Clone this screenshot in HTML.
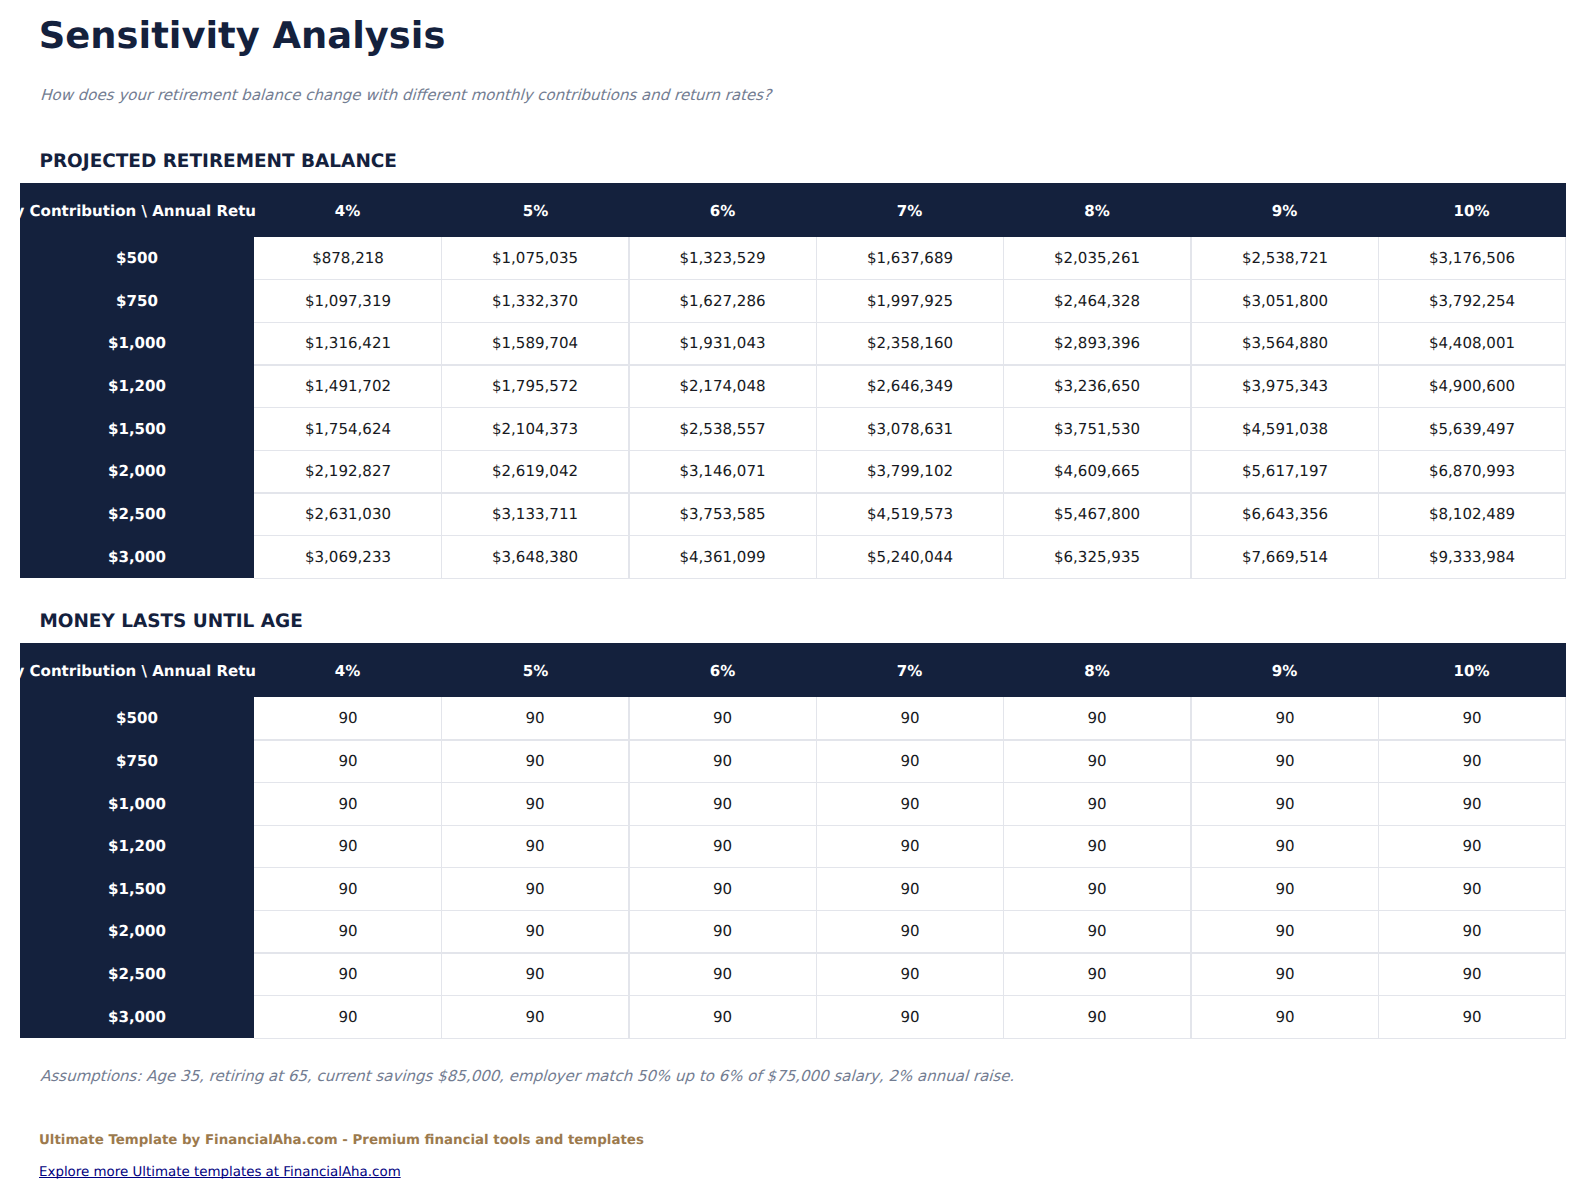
<!DOCTYPE html>
<html lang="en">
<head>
<meta charset="utf-8">
<title>Sensitivity Analysis</title>
<style>
html,body{margin:0;padding:0;background:#fff;}
body{text-rendering:geometricPrecision;font-family:"DejaVu Sans","Liberation Sans",sans-serif;color:#1a1a1a;}
.page{position:relative;width:1586px;height:1199px;overflow:hidden;}
.page>*{position:absolute;margin:0;white-space:nowrap;}
.title{left:38.8px;top:13.7px;font-size:36.86px;font-weight:bold;color:#14213d;line-height:normal;}
.sub{left:40px;top:86px;font-size:15.04px;color:#737d92;line-height:18px;transform:skewX(-16.7deg);transform-origin:0 14px;}
.sec{left:39.4px;font-size:18.45px;font-weight:bold;color:#14213d;line-height:normal;}
.s1{top:151px;}
.s2{top:611px;}
table.grid{left:20px;width:1546px;border-collapse:separate;border-spacing:0;table-layout:fixed;}
.t1{top:183px;}
.t2{top:643px;}
table.grid th,table.grid td{box-sizing:border-box;padding:0;text-align:center;vertical-align:middle;font-size:15.04px;line-height:18px;}
table.grid th{background:#14213d;color:#fff;font-weight:bold;}
table.grid tr.hd th{height:54px;padding-top:2px;}
table.grid td{background:#fff;color:#171a22;border:0 solid #e3e5eb;border-right-width:1px;border-bottom-width:1px;}
table.grid td.v2{border-right-width:2px;}
table.grid tr.b2 td{border-bottom-width:2px;}
table.grid tr.h42 th,table.grid tr.h42 td{height:42px;}
table.grid tr.h43 th,table.grid tr.h43 td{height:43px;}
table.grid tr.h44 th,table.grid tr.h44 td{height:44px;}
table.grid tr.up th,table.grid tr.up td{padding-bottom:2px;}
table.grid tr.hd th.c1,table.grid tr.hd th.c2{padding-right:1px;}
table.grid tr.hd th.c3,table.grid tr.hd th.c4,table.grid tr.hd th.c5,table.grid tr.hd th.c6,table.grid tr.hd th.c7{padding-right:2px;}
table.grid td.c1{padding-left:1px;}
table.grid td.c3{padding-right:1px;}
table.grid tr.b1 th.rh{border-bottom:1px solid #14213d;}
table.grid tr.b2 th.rh{border-bottom:2px solid #14213d;}
table.grid tr.last th.rh{border-bottom:1px solid #fff;}
.corner{position:relative;overflow:visible;}
.clip{position:absolute;left:0;top:0;width:236px;height:54px;overflow:hidden;}
.clip span{position:absolute;left:-64.5px;top:19px;white-space:nowrap;}
.note{left:40px;top:1067px;font-size:15.03px;color:#737d92;line-height:18px;transform:skewX(-16.7deg);transform-origin:0 14px;}
.brand{left:39px;top:1133px;font-size:13.37px;font-weight:bold;color:#9c7a4d;}
.link{left:39px;top:1165px;font-size:13.4px;}
.link a{color:#000080;text-decoration:underline;text-decoration-skip-ink:none;}

</style>
</head>
<body>
<div class="page">
<h1 class="title">Sensitivity Analysis</h1>
<p class="sub">How does your retirement balance change with different monthly contributions and return rates?</p>
<h2 class="sec s1">PROJECTED RETIREMENT BALANCE</h2>
<table class="grid t1">
<colgroup><col style="width:234px"><col style="width:188px"><col style="width:188px"><col style="width:187px"><col style="width:187px"><col style="width:188px"><col style="width:187px"><col style="width:187px"></colgroup>
<thead><tr class="hd"><th class="corner"><div class="clip"><span>Monthly Contribution \ Annual Return</span></div></th><th class="c1">4%</th><th class="c2">5%</th><th class="c3">6%</th><th class="c4">7%</th><th class="c5">8%</th><th class="c6">9%</th><th class="c7">10%</th></tr></thead>
<tbody>
<tr class="h43 b1"><th class="rh">$500</th><td class="v1 c1">$878,218</td><td class="v2 c2">$1,075,035</td><td class="v1 c3">$1,323,529</td><td class="v1 c4">$1,637,689</td><td class="v2 c5">$2,035,261</td><td class="v1 c6">$2,538,721</td><td class="v1 c7">$3,176,506</td></tr>
<tr class="h43 b1"><th class="rh">$750</th><td class="v1 c1">$1,097,319</td><td class="v2 c2">$1,332,370</td><td class="v1 c3">$1,627,286</td><td class="v1 c4">$1,997,925</td><td class="v2 c5">$2,464,328</td><td class="v1 c6">$3,051,800</td><td class="v1 c7">$3,792,254</td></tr>
<tr class="h43 b2 up"><th class="rh">$1,000</th><td class="v1 c1">$1,316,421</td><td class="v2 c2">$1,589,704</td><td class="v1 c3">$1,931,043</td><td class="v1 c4">$2,358,160</td><td class="v2 c5">$2,893,396</td><td class="v1 c6">$3,564,880</td><td class="v1 c7">$4,408,001</td></tr>
<tr class="h42 b1 up"><th class="rh">$1,200</th><td class="v1 c1">$1,491,702</td><td class="v2 c2">$1,795,572</td><td class="v1 c3">$2,174,048</td><td class="v1 c4">$2,646,349</td><td class="v2 c5">$3,236,650</td><td class="v1 c6">$3,975,343</td><td class="v1 c7">$4,900,600</td></tr>
<tr class="h43 b1"><th class="rh">$1,500</th><td class="v1 c1">$1,754,624</td><td class="v2 c2">$2,104,373</td><td class="v1 c3">$2,538,557</td><td class="v1 c4">$3,078,631</td><td class="v2 c5">$3,751,530</td><td class="v1 c6">$4,591,038</td><td class="v1 c7">$5,639,497</td></tr>
<tr class="h43 b2 up"><th class="rh">$2,000</th><td class="v1 c1">$2,192,827</td><td class="v2 c2">$2,619,042</td><td class="v1 c3">$3,146,071</td><td class="v1 c4">$3,799,102</td><td class="v2 c5">$4,609,665</td><td class="v1 c6">$5,617,197</td><td class="v1 c7">$6,870,993</td></tr>
<tr class="h42 b1 up"><th class="rh">$2,500</th><td class="v1 c1">$2,631,030</td><td class="v2 c2">$3,133,711</td><td class="v1 c3">$3,753,585</td><td class="v1 c4">$4,519,573</td><td class="v2 c5">$5,467,800</td><td class="v1 c6">$6,643,356</td><td class="v1 c7">$8,102,489</td></tr>
<tr class="h43 b1 last"><th class="rh">$3,000</th><td class="v1 c1">$3,069,233</td><td class="v2 c2">$3,648,380</td><td class="v1 c3">$4,361,099</td><td class="v1 c4">$5,240,044</td><td class="v2 c5">$6,325,935</td><td class="v1 c6">$7,669,514</td><td class="v1 c7">$9,333,984</td></tr>
</tbody></table>

<h2 class="sec s2">MONEY LASTS UNTIL AGE</h2>
<table class="grid t2">
<colgroup><col style="width:234px"><col style="width:188px"><col style="width:188px"><col style="width:187px"><col style="width:187px"><col style="width:188px"><col style="width:187px"><col style="width:187px"></colgroup>
<thead><tr class="hd"><th class="corner"><div class="clip"><span>Monthly Contribution \ Annual Return</span></div></th><th class="c1">4%</th><th class="c2">5%</th><th class="c3">6%</th><th class="c4">7%</th><th class="c5">8%</th><th class="c6">9%</th><th class="c7">10%</th></tr></thead>
<tbody>
<tr class="h44 b2"><th class="rh">$500</th><td class="v1 c1">90</td><td class="v2 c2">90</td><td class="v1 c3">90</td><td class="v1 c4">90</td><td class="v2 c5">90</td><td class="v1 c6">90</td><td class="v1 c7">90</td></tr>
<tr class="h42 b1 up"><th class="rh">$750</th><td class="v1 c1">90</td><td class="v2 c2">90</td><td class="v1 c3">90</td><td class="v1 c4">90</td><td class="v2 c5">90</td><td class="v1 c6">90</td><td class="v1 c7">90</td></tr>
<tr class="h43 b1"><th class="rh">$1,000</th><td class="v1 c1">90</td><td class="v2 c2">90</td><td class="v1 c3">90</td><td class="v1 c4">90</td><td class="v2 c5">90</td><td class="v1 c6">90</td><td class="v1 c7">90</td></tr>
<tr class="h42 b1 up"><th class="rh">$1,200</th><td class="v1 c1">90</td><td class="v2 c2">90</td><td class="v1 c3">90</td><td class="v1 c4">90</td><td class="v2 c5">90</td><td class="v1 c6">90</td><td class="v1 c7">90</td></tr>
<tr class="h43 b1"><th class="rh">$1,500</th><td class="v1 c1">90</td><td class="v2 c2">90</td><td class="v1 c3">90</td><td class="v1 c4">90</td><td class="v2 c5">90</td><td class="v1 c6">90</td><td class="v1 c7">90</td></tr>
<tr class="h43 b2 up"><th class="rh">$2,000</th><td class="v1 c1">90</td><td class="v2 c2">90</td><td class="v1 c3">90</td><td class="v1 c4">90</td><td class="v2 c5">90</td><td class="v1 c6">90</td><td class="v1 c7">90</td></tr>
<tr class="h42 b1 up"><th class="rh">$2,500</th><td class="v1 c1">90</td><td class="v2 c2">90</td><td class="v1 c3">90</td><td class="v1 c4">90</td><td class="v2 c5">90</td><td class="v1 c6">90</td><td class="v1 c7">90</td></tr>
<tr class="h43 b1 last"><th class="rh">$3,000</th><td class="v1 c1">90</td><td class="v2 c2">90</td><td class="v1 c3">90</td><td class="v1 c4">90</td><td class="v2 c5">90</td><td class="v1 c6">90</td><td class="v1 c7">90</td></tr>
</tbody></table>

<p class="note">Assumptions: Age 35, retiring at 65, current savings $85,000, employer match 50% up to 6% of $75,000 salary, 2% annual raise.</p>
<p class="brand">Ultimate Template by FinancialAha.com - Premium financial tools and templates</p>
<p class="link"><a href="#">Explore more Ultimate templates at FinancialAha.com</a></p>
</div>
</body>
</html>
